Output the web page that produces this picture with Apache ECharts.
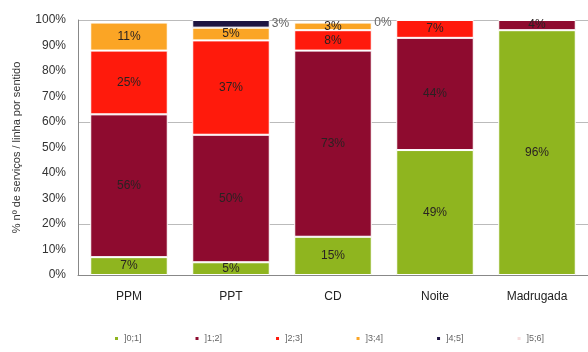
<!DOCTYPE html>
<html>
<head>
<meta charset="utf-8">
<script src="https://cdn.jsdelivr.net/npm/echarts@6/dist/echarts.min.js"></script>
<style>
  html, body { margin: 0; padding: 0; background: #fff; }
  #chart { width: 588px; height: 352px; }
</style>
</head>
<body>
<div id="chart"></div>
<script>
// Periods of the day
const periods = ['PPM', 'PPT', 'CD', 'Noite', 'Madrugada'];

// Share (%) of services per line and direction, by class
const class01 = [7, 5, 15, 49, 96];
const class12 = [56, 50, 73, 44, 4];
const class23 = [25, 37, 8, 7, '-'];
const class34 = [11, 5, 3, '-', '-'];
const class45 = ['-', 3, 0, '-', '-'];
const class56 = ['-', '-', '-', '-', '-'];

// Tick labels of the value axis
const yTicks = ['0%', '10%', '20%', '30%', '40%', '50%', '60%', '70%', '80%', '90%', '100%'];

const classNames = [']0;1]', ']1;2]', ']2;3]', ']3;4]', ']4;5]', ']5;6]'];
const classValues = [class01, class12, class23, class34, class45, class56];
const classColors = ['#8fb51f', '#8e0b2f', '#ff1a0c', '#fba525', '#1d1440', '#f6dede'];

const chart = echarts.init(document.getElementById('chart'));

const barSeries = classNames.map((name, i) => {
  const outside = (i === 4);
  return {
    name: name,
    type: 'bar',
    stack: 'total',
    barWidth: '76%',
    data: classValues[i],
    itemStyle: { color: classColors[i], borderColor: '#fff', borderWidth: 1 },
    label: {
      show: true,
      position: outside ? 'right' : 'inside',
      distance: 2,
      formatter: p => p.value + '%',
      fontFamily: 'Arial, Liberation Sans, sans-serif',
      fontSize: 12,
      color: outside ? '#666' : '#2a2222'
    },
    labelLayout: { hideOverlap: false }
  };
});

const option = {
  animation: false,
  backgroundColor: '#fff',
  textStyle: { fontFamily: 'Arial, Liberation Sans, sans-serif' },
  grid: { left: 78, top: 20, width: 514, height: 255 },
  legend: {
    data: classNames,
    bottom: 4,
    left: 108,
    itemWidth: 5,
    itemHeight: 5,
    itemGap: 52,
    icon: 'rect',
    textStyle: { fontSize: 9, color: '#666' }
  },
  xAxis: {
    type: 'category',
    data: periods,
    axisLine: { lineStyle: { color: '#888' } },
    axisTick: { show: false },
    axisLabel: { color: '#222', fontSize: 12, margin: 16 }
  },
  yAxis: {
    type: 'value',
    min: 0,
    max: 100,
    interval: 10,
    name: '% nº de serviços / linha por sentido',
    nameLocation: 'middle',
    nameGap: 56,
    nameTextStyle: { color: '#333', fontSize: 11 },
    axisLine: { show: true, lineStyle: { color: '#888' } },
    axisTick: { show: false },
    // reference lines drawn only at 20%, 60% and 100%
    splitLine: {
      show: true,
      lineStyle: { color: ['rgba(0,0,0,0)', 'rgba(0,0,0,0)', '#bbb', 'rgba(0,0,0,0)'], width: 1 }
    },
    axisLabel: {
      formatter: v => yTicks[Math.round(v / 10)],
      color: '#333',
      fontSize: 12,
      margin: 12
    }
  },
  series: barSeries
};

chart.setOption(option);
</script>
</body>
</html>
